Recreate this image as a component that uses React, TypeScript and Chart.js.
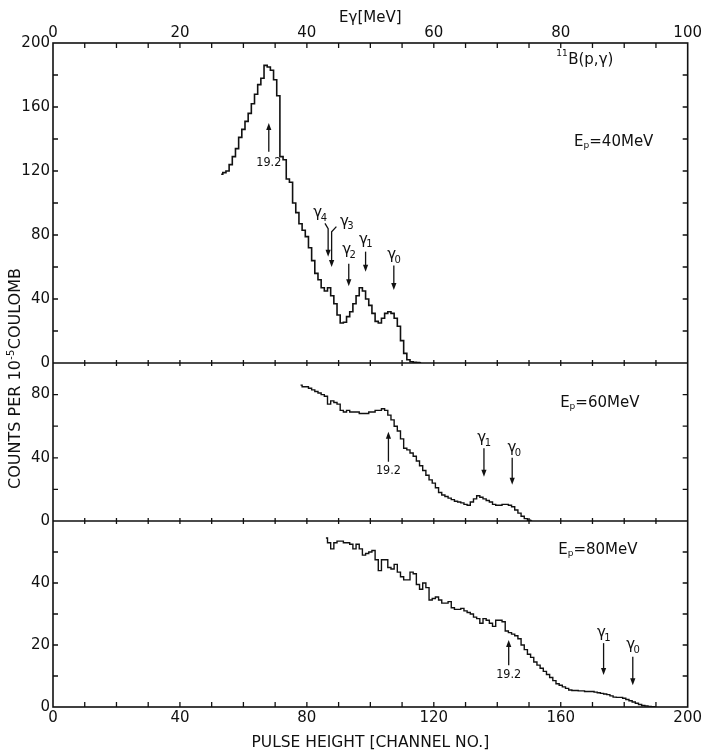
import React, { useEffect, useRef } from "react";
import { Chart, registerables } from "chart.js";

Chart.register(...registerables);

// ---------------- data ----------------
// Ep = 40 MeV spectrum, one value per channel starting at START_40
const START_40 = 53;
const COUNTS_40 = [
  118, 119, 120, 124, 129, 134, 141, 146, 151, 156, 162, 168, 174, 178, 186, 185, 183, 177,
  167, 129, 127, 115, 113, 100, 94, 87, 83, 79, 72, 64, 56, 52, 47, 45, 47, 42, 37, 30, 25,
  25.5, 29, 32, 37, 42, 47, 45, 40, 36, 31, 26, 25, 28, 31, 32, 31, 28, 23, 14, 6, 2, 0.8,
  0.5, 0.3, 0.2,
];

// Ep = 60 MeV spectrum
const START_60 = 78;
const COUNTS_60 = [
  86, 85, 85, 84, 83, 82, 81, 80, 79, 74, 76, 75, 74, 70, 69, 70, 69, 69, 69, 68, 68, 68, 69,
  69, 70, 70, 71, 70, 67, 64, 60, 57, 52, 46, 45, 43, 41, 38, 35, 32, 29, 26, 24, 21, 18, 16.5,
  15.5, 14.5, 13.5, 12.5, 12, 11.5, 10.5, 10, 12, 14, 16, 15, 14, 13, 12, 10.5, 10, 10, 10.5,
  10.5, 10, 9, 7, 5, 3, 1.5, 0.5, 0,
];

// Ep = 80 MeV spectrum
const START_80 = 86;
const COUNTS_80 = [
  54.5, 53, 51, 53, 53.5, 53.5, 53, 53, 52.5, 51, 52.5, 51, 49, 49.5, 50, 50.5, 47.5, 44, 47.5,
  47.5, 45, 44.5, 46, 43.5, 42, 41, 41, 43.5, 43, 39.5, 38, 40, 38.5, 34.5, 35, 35.5, 34.5,
  33.5, 33.5, 34, 32, 31.5, 31.5, 31.8, 31, 30.5, 30, 29, 28.5, 27, 28.5, 28, 27, 26, 28, 28,
  27.5, 24.5, 24, 23.5, 23, 22, 20, 18.5, 17, 16, 14.5, 13.5, 12.5, 11.5, 10.5, 9.5, 8.5, 7.5,
  7, 6.5, 6, 5.5, 5.3, 5.3, 5.2, 5.2, 5, 5, 5, 4.8, 4.6, 4.4, 4.2, 4, 3.6, 3.2, 3.1, 3.1, 2.8,
  2.4, 2, 1.6, 1.2, 0.8, 0.5, 0.3, 0.2, 0.1, 0,
];

// axis tick labels
const CHANNEL_LABELS = [0, 40, 80, 120, 160, 200];
const EGAMMA_LABELS = [0, 20, 40, 60, 80, 100];
const PANEL1_LABELS = [0, 40, 80, 120, 160, 200];
const PANEL2_LABELS = [0, 40, 80];
const PANEL3_LABELS = [0, 20, 40];

// arrow annotations
type Ann = {
  axis: "y1" | "y2" | "y3";
  ch: number;
  tail: number;
  head: number;
  text: string;
  sub: string;
  lch: number;
  lv: number;
  bend?: [number, number];
};
const ARROWS_40: Ann[] = [
  { axis: "y1", ch: 68, tail: 132, head: 150, text: "19.2", sub: "", lch: 68, lv: 125 },
  { axis: "y1", ch: 86.7, tail: 84, head: 66.4, text: "γ", sub: "4", lch: 84.1, lv: 93.5, bend: [85.7, 87.3] },
  { axis: "y1", ch: 87.8, tail: 82, head: 60, text: "γ", sub: "3", lch: 92.5, lv: 88.3, bend: [89.3, 85.2] },
  { axis: "y1", ch: 93.2, tail: 62, head: 48, text: "γ", sub: "2", lch: 93.2, lv: 70.6 },
  { axis: "y1", ch: 98.5, tail: 69.6, head: 57, text: "γ", sub: "1", lch: 98.5, lv: 77 },
  { axis: "y1", ch: 107.4, tail: 61, head: 45.6, text: "γ", sub: "0", lch: 107.4, lv: 67.5 },
];
const ARROWS_60: Ann[] = [
  { axis: "y2", ch: 105.7, tail: 37.5, head: 56.5, text: "19.2", sub: "", lch: 105.7, lv: 32 },
  { axis: "y2", ch: 135.8, tail: 46, head: 28, text: "γ", sub: "1", lch: 135.8, lv: 52.5 },
  { axis: "y2", ch: 144.7, tail: 40, head: 23, text: "γ", sub: "0", lch: 145.3, lv: 46 },
];
const ARROWS_80: Ann[] = [
  { axis: "y3", ch: 143.6, tail: 13.5, head: 21.6, text: "19.2", sub: "", lch: 143.6, lv: 10.3 },
  { axis: "y3", ch: 173.5, tail: 20.6, head: 10.3, text: "γ", sub: "1", lch: 173.5, lv: 23.8 },
  { axis: "y3", ch: 182.7, tail: 16.2, head: 7, text: "γ", sub: "0", lch: 182.7, lv: 20 },
];

// panel captions
const EP_LABELS: { axis: "y1" | "y2" | "y3"; ch: number; v: number; energy: string }[] = [
  { axis: "y1", ch: 176.7, v: 138.3, energy: "40" },
  { axis: "y2", ch: 172.3, v: 74.7, energy: "60" },
  { axis: "y3", ch: 171.7, v: 50.6, energy: "80" },
];
const REACTION = { axis: "y1", ch: 167.5, v: 187, mass: "11", text: "B(p,γ)" };

const X_TITLE = "PULSE HEIGHT [CHANNEL NO.]";
const X_TOP_TITLE = "Eγ[MeV]";
const Y_TITLE_MAIN = "COUNTS PER 10";
const Y_TITLE_SUP = "-5";
const Y_TITLE_END = "COULOMB";

// ---------------- styling ----------------
const INK = "#111";
const FONT = '"DejaVu Sans", "Liberation Sans", sans-serif';
const CFONT = '"DejaVu Sans Condensed", "DejaVu Sans", sans-serif';

const toPoints = (start: number, arr: number[]) => arr.map((v, i) => ({ x: start + i, y: v }));

function labelCallback(list: number[]) {
  return (v: any) => (list.includes(Number(v)) ? String(v) : "");
}

const framePlugin = {
  id: "frame",
  afterDatasetsDraw(chart: any) {
    const { ctx, chartArea } = chart;
    const { left, right, top, bottom } = chartArea;
    const xs = chart.scales.x;
    const ys = [chart.scales.y1, chart.scales.y2, chart.scales.y3];
    const steps = [20, 20, 10];
    ctx.save();
    ctx.strokeStyle = INK;
    ctx.lineWidth = 1.6;
    ctx.strokeRect(left, top, right - left, bottom - top);
    const b1 = ys[0].getPixelForValue(0);
    const b2 = ys[1].getPixelForValue(0);
    ctx.beginPath();
    ctx.moveTo(left, b1);
    ctx.lineTo(right, b1);
    ctx.moveTo(left, b2);
    ctx.lineTo(right, b2);
    ctx.stroke();
    ctx.lineWidth = 1.3;
    ctx.beginPath();
    for (let c = 10; c < 200; c += 10) {
      const px = xs.getPixelForValue(c);
      ctx.moveTo(px, top);
      ctx.lineTo(px, top + 5);
      ctx.moveTo(px, b1 - 3);
      ctx.lineTo(px, b1 + 3);
      ctx.moveTo(px, b2 - 3);
      ctx.lineTo(px, b2 + 3);
      ctx.moveTo(px, bottom);
      ctx.lineTo(px, bottom - 5);
    }
    ys.forEach((s: any, i: number) => {
      for (let v = s.min + steps[i]; v < s.max - 1e-6; v += steps[i]) {
        const py = s.getPixelForValue(v);
        ctx.moveTo(left, py);
        ctx.lineTo(left + 5, py);
        ctx.moveTo(right, py);
        ctx.lineTo(right - 5, py);
      }
    });
    ctx.stroke();

    // annotations
    ctx.fillStyle = INK;
    ctx.lineWidth = 1.3;
    const all = [...ARROWS_40, ...ARROWS_60, ...ARROWS_80];
    all.forEach((a) => {
      const ys_ = chart.scales[a.axis];
      const x = xs.getPixelForValue(a.ch);
      const yt = ys_.getPixelForValue(a.tail);
      const yh = ys_.getPixelForValue(a.head);
      const dir = yh < yt ? -1 : 1;
      ctx.beginPath();
      if (a.bend) {
        ctx.moveTo(xs.getPixelForValue(a.bend[0]), ys_.getPixelForValue(a.bend[1]));
        ctx.lineTo(x, yt);
      } else {
        ctx.moveTo(x, yt);
      }
      ctx.lineTo(x, yh - dir * 6);
      ctx.stroke();
      ctx.beginPath();
      ctx.moveTo(x, yh);
      ctx.lineTo(x - 2.6, yh - dir * 7);
      ctx.lineTo(x + 2.6, yh - dir * 7);
      ctx.closePath();
      ctx.fill();
      const lx = xs.getPixelForValue(a.lch);
      const ly = ys_.getPixelForValue(a.lv);
      ctx.textBaseline = "middle";
      if (a.sub) {
        ctx.font = `15px ${FONT}`;
        const w1 = ctx.measureText(a.text).width;
        ctx.font = `10px ${FONT}`;
        const w2 = ctx.measureText(a.sub).width;
        const x0 = lx - (w1 + w2) / 2 + 1;
        ctx.textAlign = "left";
        ctx.font = `15px ${FONT}`;
        ctx.fillText(a.text, x0, ly);
        ctx.font = `10px ${FONT}`;
        ctx.fillText(a.sub, x0 + w1 - 1.5, ly + 5);
      } else {
        ctx.textAlign = "center";
        ctx.font = `12.5px ${CFONT}`;
        ctx.fillText(a.text, lx, ly);
      }
    });

    // Ep labels
    EP_LABELS.forEach((e) => {
      const s = chart.scales[e.axis];
      const cx = xs.getPixelForValue(e.ch);
      const cy = s.getPixelForValue(e.v);
      const rest = `=${e.energy}MeV`;
      ctx.font = `15px ${FONT}`;
      const wE = ctx.measureText("E").width;
      const wR = ctx.measureText(rest).width;
      ctx.font = `9px ${FONT}`;
      const wp = ctx.measureText("p").width;
      const x0 = cx - (wE + wp + wR) / 2;
      ctx.textAlign = "left";
      ctx.textBaseline = "middle";
      ctx.font = `15px ${FONT}`;
      ctx.fillText("E", x0, cy);
      ctx.fillText(rest, x0 + wE + wp, cy);
      ctx.font = `9px ${FONT}`;
      ctx.fillText("p", x0 + wE, cy + 4);
    });

    // reaction label
    {
      const s = chart.scales[REACTION.axis];
      const cx = xs.getPixelForValue(REACTION.ch);
      const by = s.getPixelForValue(REACTION.v);
      ctx.font = `15px ${FONT}`;
      const wT = ctx.measureText(REACTION.text).width;
      ctx.font = `9px ${FONT}`;
      const wM = ctx.measureText(REACTION.mass).width;
      const x0 = cx - (wT + wM) / 2;
      ctx.textAlign = "left";
      ctx.textBaseline = "alphabetic";
      ctx.fillText(REACTION.mass, x0, by - 8);
      ctx.font = `15px ${FONT}`;
      ctx.fillText(REACTION.text, x0 + wM + 0.5, by);
    }

    // y title (rotated)
    {
      const cy = (ys[1].top + ys[0].bottom) / 2 + 16;
      ctx.translate(16, cy);
      ctx.rotate(-Math.PI / 2);
      ctx.font = `16px ${FONT}`;
      const w1 = ctx.measureText(Y_TITLE_MAIN).width;
      const w3 = ctx.measureText(Y_TITLE_END).width;
      ctx.font = `10px ${FONT}`;
      const w2 = ctx.measureText(Y_TITLE_SUP).width;
      const x0 = -(w1 + w2 + w3) / 2;
      ctx.textAlign = "left";
      ctx.textBaseline = "middle";
      ctx.font = `16px ${FONT}`;
      ctx.fillText(Y_TITLE_MAIN, x0, 0);
      ctx.fillText(Y_TITLE_END, x0 + w1 + w2 + 1, 0);
      ctx.font = `10px ${FONT}`;
      ctx.fillText(Y_TITLE_SUP, x0 + w1 + 0.5, -5);
    }
    ctx.restore();
  },
};

export default function App() {
  const ref = useRef<HTMLCanvasElement | null>(null);
  useEffect(() => {
    if (!ref.current) return;
    Chart.defaults.color = INK;
    const tickFont = { family: FONT, size: 15 };
    const yCommon = (weight: number, max: number, step: number, labels: number[]) => ({
      type: "linear",
      position: "left",
      stack: "panels",
      stackWeight: weight,
      min: 0,
      max,
      grid: { display: false, drawTicks: false },
      border: { display: false },
      ticks: {
        stepSize: step,
        autoSkip: false,
        padding: 3,
        font: tickFont,
        color: INK,
        callback: labelCallback(labels),
      },
      afterFit: (s: any) => {
        s.width = 53;
      },
    });
    const chart = new Chart(ref.current, {
      type: "line",
      data: {
        datasets: [
          {
            data: toPoints(START_40, COUNTS_40),
            yAxisID: "y1",
            xAxisID: "x",
            borderColor: INK,
            borderWidth: 1.6,
            pointRadius: 0,
            stepped: "middle",
          },
          {
            data: toPoints(START_60, COUNTS_60),
            yAxisID: "y2",
            xAxisID: "x",
            borderColor: INK,
            borderWidth: 1.4,
            pointRadius: 0,
            stepped: "middle",
          },
          {
            data: toPoints(START_80, COUNTS_80),
            yAxisID: "y3",
            xAxisID: "x",
            borderColor: INK,
            borderWidth: 1.4,
            pointRadius: 0,
            stepped: "middle",
          },
        ],
      } as any,
      options: {
        responsive: false,
        devicePixelRatio: 1,
        animation: false,
        parsing: false,
        normalized: true,
        layout: { padding: { left: 0, right: 16, top: 0, bottom: 0 } },
        plugins: { legend: { display: false }, tooltip: { enabled: false } },
        events: [],
        scales: {
          x: {
            type: "linear",
            position: "bottom",
            min: 0,
            max: 200,
            grid: { display: false, drawTicks: false },
            border: { display: false },
            ticks: {
              stepSize: 40,
              autoSkip: false,
              maxRotation: 0,
              minRotation: 0,
              padding: 2,
              font: tickFont,
              color: INK,
              callback: labelCallback(CHANNEL_LABELS),
            },
            title: {
              display: true,
              text: X_TITLE,
              color: INK,
              font: { family: FONT, size: 15.5 },
              padding: { top: 3, bottom: 0 },
            },
            afterFit: (s: any) => {
              s.height = 45;
            },
          },
          xTop: {
            type: "linear",
            position: "top",
            min: 0,
            max: 100,
            grid: { display: false, drawTicks: false },
            border: { display: false },
            ticks: {
              stepSize: 20,
              autoSkip: false,
              maxRotation: 0,
              minRotation: 0,
              padding: 1,
              font: tickFont,
              color: INK,
              callback: labelCallback(EGAMMA_LABELS),
            },
            title: {
              display: true,
              text: X_TOP_TITLE,
              color: INK,
              font: { family: FONT, size: 15 },
              padding: { top: 9, bottom: 0 },
            },
            afterFit: (s: any) => {
              s.height = 43;
            },
          },
          y3: yCommon(186, 60, 10, PANEL3_LABELS),
          y2: yCommon(158, 100, 20, PANEL2_LABELS),
          y1: yCommon(320, 200, 20, PANEL1_LABELS),
        } as any,
      },
      plugins: [framePlugin],
    });
    return () => chart.destroy();
  }, []);
  return (
    <div style={{ position: "absolute", left: 0, top: 0, width: 704, height: 752, background: "#fff" }}>
      <canvas ref={ref} width={704} height={752} style={{ display: "block" }} />
    </div>
  );
}
